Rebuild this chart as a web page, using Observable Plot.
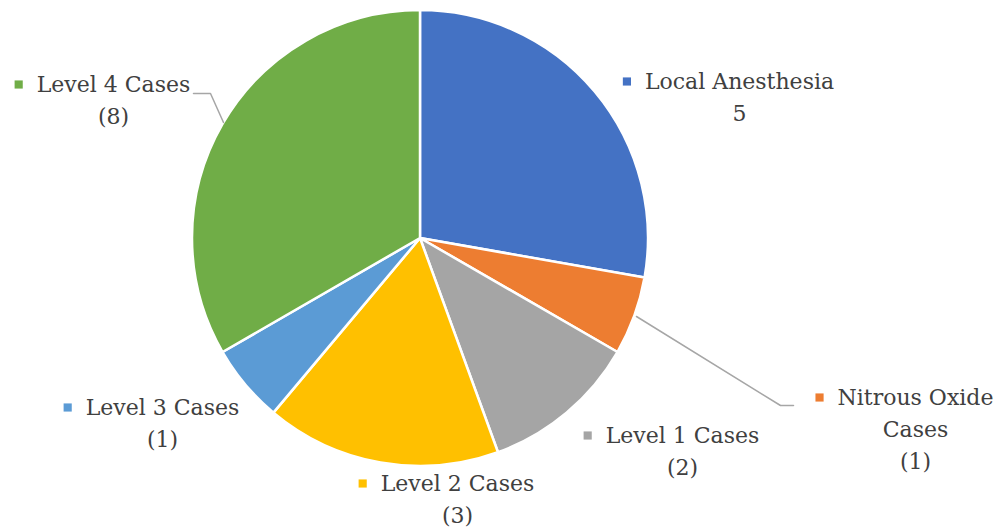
<!DOCTYPE html>
<html>
<head>
<meta charset="utf-8">
<script src="https://cdn.jsdelivr.net/npm/d3@7"></script>
<script src="https://cdn.jsdelivr.net/npm/@observablehq/plot@0.6"></script>
<style>
  html, body { margin: 0; padding: 0; background: #fff; }
  #chart { width: 1003px; height: 529px; }
</style>
</head>
<body>
<div id="chart"></div>
<script>
// ---- data ----
const categories = ["Local Anesthesia", "Nitrous Oxide Cases", "Level 1 Cases", "Level 2 Cases", "Level 3 Cases", "Level 4 Cases"];
const values = [5, 1, 2, 3, 1, 6];
const labelLines = [
  ["Local Anesthesia", "5"],
  ["Nitrous Oxide", "Cases", "(1)"],
  ["Level 1 Cases", "(2)"],
  ["Level 2 Cases", "(3)"],
  ["Level 3 Cases", "(1)"],
  ["Level 4 Cases", "(8)"]
];
const colors = ["#4472C4", "#ED7D31", "#A5A5A5", "#FFC000", "#5B9BD5", "#70AD47"];

// ---- layout (pixels) ----
const W = 1003, H = 529;
const CX = 420, CY = 238, R = 228;
const labelCenter = [[739, 81], [915, 397], [682, 435], [457, 483], [162, 407], [113, 84]];
const lineGap = 32;
const leaders = [
  {cat: "Level 4 Cases", pts: [[193, 93], [210, 93], [223, 122]]},
  {cat: "Nitrous Oxide Cases", pts: [[636, 316], [780, 405], [793, 405]]}
];

const FONT = "DejaVu Serif";
const FS = 22;
const ctx = document.createElement("canvas").getContext("2d");
ctx.font = `${FS}px "${FONT}"`;

const arcs = d3.pie().sort(null).startAngle(0).endAngle(2 * Math.PI)(values)
  .map((a, i) => ({...a, name: categories[i], color: colors[i]}));

const textRows = [];
const swatches = [];
categories.forEach((c, i) => {
  const [lx, ly] = labelCenter[i];
  labelLines[i].forEach((t, j) => textRows.push({x: lx, y: ly + j * lineGap, text: t}));
  const w0 = ctx.measureText(labelLines[i][0]).width;
  swatches.push({x: lx - w0 / 2 - 18, y: ly, color: colors[i]});
});
const leaderPts = leaders.flatMap(l => l.pts.map(([x, y]) => ({x, y, cat: l.cat})));

function pieMark(index, scales) {
  const g = d3.create("svg:g");
  const cx = scales.x(CX), cy = scales.y(CY);
  const r = Math.abs(scales.x(CX + R) - scales.x(CX));
  const arc = d3.arc().innerRadius(0).outerRadius(r);
  g.attr("transform", `translate(${cx},${cy})`)
    .selectAll("path").data(arcs).join("path")
    .attr("d", arc)
    .attr("fill", d => d.color)
    .attr("stroke", "#fff")
    .attr("stroke-width", 2.5)
    .attr("stroke-linejoin", "round");
  return g.node();
}

const chart = Plot.plot({
  width: W, height: H,
  margin: 0,
  x: {domain: [0, W], range: [0, W], axis: null},
  y: {domain: [0, H], range: [0, H], axis: null},
  style: {fontFamily: FONT, background: "#fff"},
  marks: [
    pieMark,
    Plot.line(leaderPts, {x: "x", y: "y", z: "cat", stroke: "#A6A6A6", strokeWidth: 1.5}),
    Plot.dot(swatches, {x: "x", y: "y", symbol: "square", r: 4.6, fill: "color", stroke: null}),
    Plot.text(textRows, {x: "x", y: "y", text: "text", fontSize: FS, fill: "#404040", textAnchor: "middle", lineAnchor: "middle"})
  ]
});
document.getElementById("chart").append(chart);
</script>
</body>
</html>
